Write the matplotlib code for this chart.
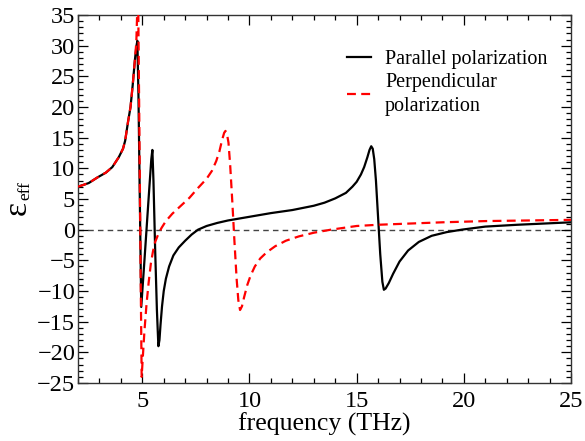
import matplotlib
matplotlib.use("Agg")
import matplotlib.pyplot as plt
from matplotlib.ticker import MultipleLocator

plt.rcParams['font.family'] = ['Liberation Serif', 'DejaVu Serif']
plt.rcParams['mathtext.fontset'] = 'stix'

# Parallel polarization (black solid)
par_freq = [2.0, 2.5, 2.9, 3.3, 3.6, 3.9, 4.1, 4.2, 4.33, 4.45, 4.55, 4.65, 4.72, 4.77,
            4.82, 4.88, 4.95, 5.1, 5.3, 5.42, 5.47, 5.52, 5.6, 5.68, 5.75, 5.8, 5.85,
            5.92, 6.0, 6.1, 6.25, 6.45, 6.7, 7.0, 7.3, 7.6, 8.0, 8.5, 9.0, 10.0, 11.0,
            12.0, 13.0, 13.5, 14.0, 14.5, 14.8, 15.0, 15.2, 15.35, 15.5, 15.6, 15.68,
            15.75, 15.82, 15.9, 16.0, 16.1, 16.2, 16.27, 16.35, 16.5, 16.7, 17.0, 17.4,
            17.9, 18.5, 19.2, 19.9, 21.0, 22.5, 25.0]
par_eps = [7.0, 7.6, 8.5, 9.3, 10.2, 11.8, 13.2, 14.5, 17.5, 20.0, 23.5, 27.5, 29.8, 30.8,
           22.0, 6.0, -12.6, -5.0, 5.4, 11.5, 13.0, 8.0, -3.3, -13.0, -19.0, -18.0, -15.5,
           -12.5, -10.0, -8.0, -6.0, -4.2, -2.9, -1.8, -0.8, 0.0, 0.6, 1.1, 1.5, 2.1, 2.7,
           3.2, 3.9, 4.4, 5.1, 6.0, 7.0, 7.8, 9.0, 10.2, 11.8, 13.0, 13.6,
           13.2, 11.5, 8.0, 2.0, -4.0, -8.5, -9.8, -9.6, -8.7, -7.2, -5.2, -3.4,
           -2.0, -1.0, -0.4, 0.0, 0.5, 0.8, 1.2]

# Perpendicular polarization (red dashed)
per_freq = [2.0, 2.5, 2.9, 3.3, 3.6, 3.9, 4.1, 4.2, 4.33, 4.45, 4.55, 4.65, 4.72, 4.8,
            4.87, 4.93, 4.97, 5.02, 5.1, 5.2, 5.3, 5.4, 5.5, 5.6, 5.75, 5.9, 6.1, 6.4,
            6.8, 7.2, 7.6, 8.0, 8.25, 8.45, 8.6, 8.72, 8.82, 8.88, 8.95, 9.02, 9.1, 9.2,
            9.3, 9.4, 9.48, 9.56, 9.65, 9.75, 9.9, 10.05, 10.25, 10.5, 10.8, 11.2, 11.7,
            12.3, 13.0, 13.8, 15.0, 16.0, 17.5, 19.0, 21.0, 23.0, 25.0]
per_eps = [7.0, 7.6, 8.5, 9.3, 10.2, 11.8, 13.2, 14.5, 17.5, 20.0, 23.5, 27.5, 30.5, 40.0,
           14.0, -10.0, -24.0, -21.0, -16.5, -12.0, -8.5, -5.5, -3.5, -2.0, -0.7, 0.3, 1.4, 2.6,
           3.9, 5.2, 6.8, 8.3, 9.6, 11.2, 12.8, 14.6, 15.8, 16.1, 15.6, 14.2, 10.5, 4.5,
           -2.0, -8.0, -11.5, -13.1, -12.5, -11.0, -9.0, -7.5, -6.0, -4.7, -3.7, -2.7, -1.8,
           -1.1, -0.5, 0.0, 0.6, 0.8, 1.0, 1.2, 1.4, 1.5, 1.6]

xlim = (2, 25)
ylim = (-25, 35)
xticks = [5, 10, 15, 20, 25]
yticks = [-25, -20, -15, -10, -5, 0, 5, 10, 15, 20, 25, 30, 35]

fig = plt.figure(figsize=(5.85, 4.41), dpi=100)
ax = fig.add_axes([78/585, 1-383/441, (571-78)/585, (383-15)/441])

ax.axhline(0, color='#444444', lw=1.0, linestyle=(0, (4, 3)), zorder=1)
ax.plot(par_freq, par_eps, color='black', lw=1.6, label='Parallel polarization', zorder=2)
ax.plot(per_freq, per_eps, color='#ff0000', lw=1.6, dashes=(4, 2.4),
        label='Perpendicular\npolarization', zorder=3)

ax.set_xlim(*xlim)
ax.set_ylim(*ylim)
ax.set_xticks(xticks)
ax.set_yticks(yticks)
ax.xaxis.set_minor_locator(MultipleLocator(1))
ax.yaxis.set_minor_locator(MultipleLocator(1))
ax.tick_params(which='both', direction='in', top=True, right=True, width=0.9, labelsize=17.5)
ax.tick_params(which='major', length=7)
ax.tick_params(which='minor', length=3.5)
ax.tick_params(axis='x', pad=6)
ax.tick_params(axis='y', pad=2)
for s in ax.spines.values():
    s.set_linewidth(1.0)
    s.set_color('#333333')

ax.set_xlabel('frequency (THz)', fontsize=18.5, labelpad=0)

fig.text(17.5/585, 1-207.5/441, 'ε', rotation=90, ha='center', va='center', fontsize=24)
fig.text(25/585, 1-190.5/441, 'eff', rotation=90, ha='center', va='center', fontsize=12.5)

leg = ax.legend(loc='upper right', bbox_to_anchor=(0.981, 0.944), frameon=False,
                fontsize=14.5, handlelength=1.2, handletextpad=0.7, labelspacing=0.2,
                borderaxespad=0.3)
leg.get_texts()[1].set_linespacing(1.35)

fig.savefig('out.png', dpi=100)
